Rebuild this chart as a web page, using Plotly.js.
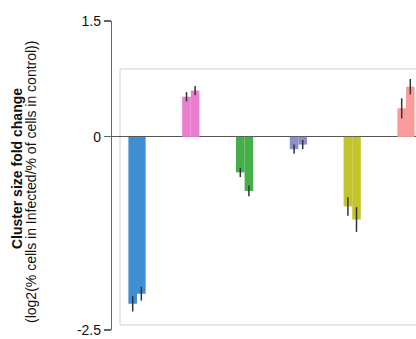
<!DOCTYPE html>
<html>
<head>
<meta charset="utf-8">
<script src="https://cdn.plot.ly/plotly-3.0.1.min.js"></script>
<style>html,body{margin:0;padding:0;background:#fff;}#chart{width:416px;height:339px;}</style>
</head>
<body>
<div id="chart"></div>
<script>
// Data
const clusters = ['C1', 'C2', 'C3', 'C4', 'C5', 'C6'];
const colors = ['#3d8fd1', '#ea7fcf', '#45b04a', '#8e8ecb', '#c4c42c', '#fb9c9c'];
const rep1 = [-2.16, 0.52, -0.46, -0.16, -0.90, 0.37];
const rep1Err = [0.10, 0.06, 0.06, 0.06, 0.12, 0.13];
const rep2 = [-2.03, 0.60, -0.70, -0.10, -1.07, 0.65];
const rep2Err = [0.09, 0.06, 0.07, 0.06, 0.16, 0.10];
const yTickVals = [-2.5, 0, 1.5];
const yTickText = ['-2.5', '0', '1.5'];
const yTitleBold = 'Cluster size fold change';
const yTitleSub = '(log2(% cells in Infected/% of cells in control))';

const xIdx = clusters.map((c, i) => i);
function barTrace(vals, errs) {
  return {
    type: 'bar', x: xIdx, y: vals,
    marker: {color: colors, line: {width: 0}},
    error_y: {type: 'data', array: errs, visible: true, color: '#333', thickness: 1.5, width: 0},
    hoverinfo: 'y'
  };
}

const data = [barTrace(rep1, rep1Err), barTrace(rep2, rep2Err)];

const font = {family: 'Liberation Sans, Arial, sans-serif', color: '#111'};
const T = 21, B = 9, H = 339 - T - B; // plot area 21..330
const py = p => (339 - B - p) / H; // pixel y -> paper y
const layout = {
  width: 416, height: 339,
  margin: {l: 112, r: 0, t: T, b: B, pad: 0},
  paper_bgcolor: '#fff', plot_bgcolor: 'rgba(0,0,0,0)',
  showlegend: false,
  barmode: 'group', bargap: 0.68, bargroupgap: 0,
  font: Object.assign({size: 14}, font),
  xaxis: {range: [-0.465, 5.186], visible: false, showgrid: false, zeroline: false},
  yaxis: {
    range: [-2.5, 1.5], tickvals: yTickVals, ticktext: yTickText,
    ticksuffix: '\u00a0',
    showline: true, linecolor: '#666', linewidth: 1.2,
    ticks: 'outside', ticklen: 7, tickcolor: '#666', tickwidth: 1.2,
    showgrid: false, zeroline: true, zerolinecolor: '#555', zerolinewidth: 1,
    tickfont: Object.assign({size: 14}, font)
  },
  shapes: [{
    type: 'rect', xref: 'paper', yref: 'paper', layer: 'below',
    x0: (120 - 112) / 304, x1: 1.1, y0: py(325), y1: py(69),
    line: {color: '#cfcfcf', width: 1}, fillcolor: 'rgba(0,0,0,0)'
  }],
  annotations: [
    {text: '<b>' + yTitleBold + '</b>', xref: 'paper', yref: 'paper',
     x: (17 - 112) / 304, y: py(169), xanchor: 'center', yanchor: 'middle',
     textangle: -90, showarrow: false, font: Object.assign({size: 14}, font)},
    {text: yTitleSub, xref: 'paper', yref: 'paper',
     x: (31 - 112) / 304, y: py(182), xanchor: 'center', yanchor: 'middle',
     textangle: -90, showarrow: false, font: Object.assign({size: 14}, font)}
  ]
};

Plotly.newPlot('chart', data, layout, {displayModeBar: false, staticPlot: true});
</script>
</body>
</html>
